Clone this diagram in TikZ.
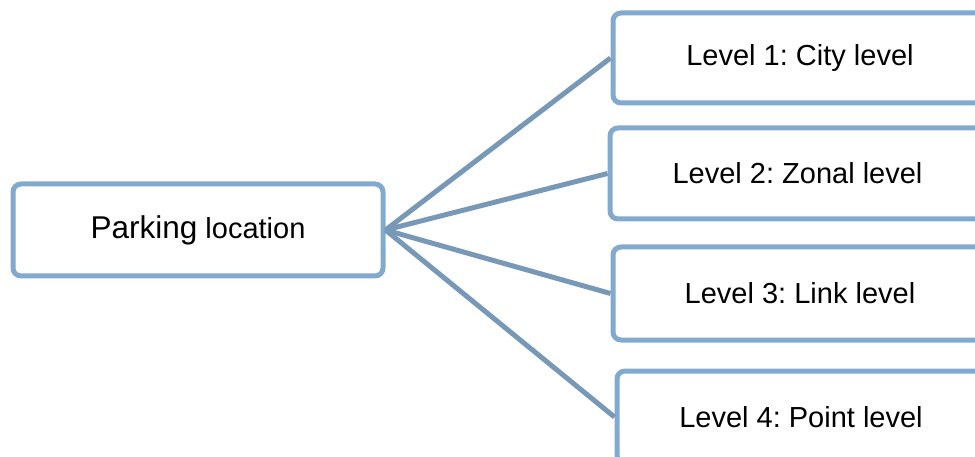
\documentclass[tikz,border=0pt]{standalone}
\usepackage{fontspec}
\setmainfont{Liberation Sans}
\frenchspacing
\definecolor{boxblue}{RGB}{130,170,206}
\definecolor{lineblue}{RGB}{120,152,184}
\tikzset{
  levelbox/.style={draw=boxblue, line width=5pt, rounded corners=8pt, fill=white,
    minimum width=372pt, minimum height=90pt, inner sep=0pt,
    font=\fontsize{29}{34}\selectfont},
  connector/.style={draw=lineblue, line width=5pt}
}
\begin{document}
\begin{tikzpicture}[x=1pt,y=-1pt]
\clip (0,0) rectangle (975,457);
\useasboundingbox (0,0) rectangle (975,457);
\node[levelbox, minimum width=370pt, minimum height=92pt] (root) at (198,230)
  {{\fontsize{31.5}{34}\selectfont Parking} location};
\node[levelbox, minimum width=374pt] (l1) at (800,58) {Level 1: City level};
\node[levelbox, minimum width=375pt, minimum height=91pt] (l2) at (797.5,173.5) {Level 2: Zonal level};
\node[levelbox, minimum width=374pt, minimum height=93pt] (l3) at (800,293.5) {Level 3: Link level};
\node[levelbox, minimum width=368pt, minimum height=92pt] (l4) at (801,417) {Level 4: Point level};
\draw[connector] (root.east) -- (l1.west);
\draw[connector] (root.east) -- (l2.west);
\draw[connector] (root.east) -- (l3.west);
\draw[connector] (root.east) -- (l4.west);
\end{tikzpicture}
\end{document}
